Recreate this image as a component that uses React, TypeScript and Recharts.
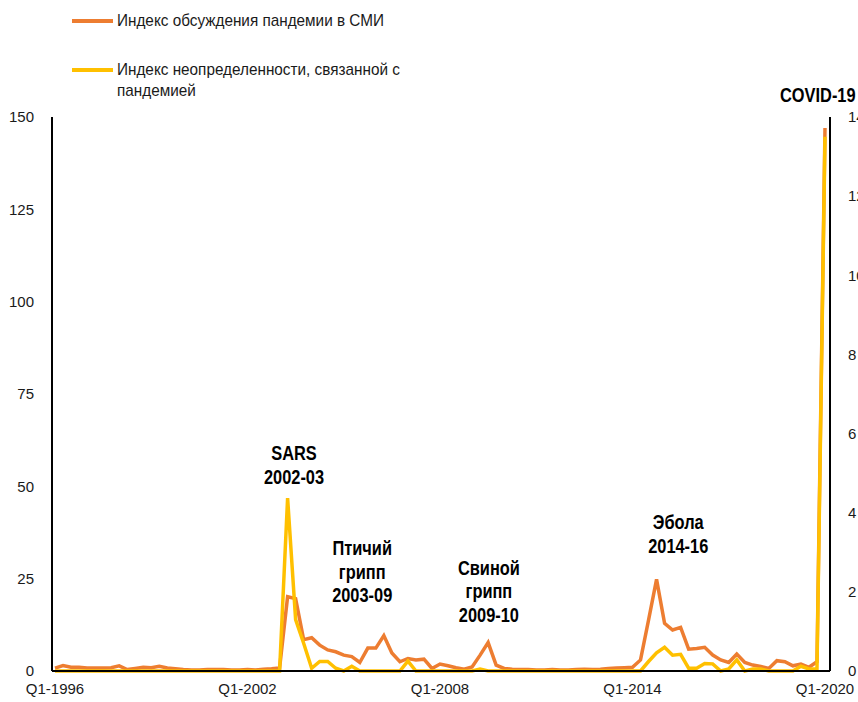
import React from "react";
import { LineChart, Line, XAxis, YAxis, ReferenceDot } from "recharts";

document.body.style.margin = "0";

// quarters Q1-1996 .. Q1-2020
const quarters: string[] = [];
for (let y = 1996; y <= 2020; y++) {
  for (let q = 1; q <= 4; q++) {
    if (y === 2020 && q > 1) break;
    quarters.push(`Q${q}-${y}`);
  }
}

// Индекс обсуждения пандемии в СМИ (левая ось)
const mediaIndex = [
  0.8, 1.5, 1.0, 1.0, 0.8, 0.8, 0.8, 0.9, 1.4, 0.4, 0.7, 1.0, 0.9, 1.3, 0.8, 0.6,
  0.4, 0.3, 0.3, 0.4, 0.4, 0.4, 0.3, 0.3, 0.4, 0.3, 0.5, 0.6, 0.8, 20.1, 19.6, 8.5,
  9.0, 7.0, 5.7, 5.2, 4.3, 3.9, 2.3, 6.2, 6.2, 9.6, 4.9, 2.5, 3.4, 3.0, 3.2, 0.7,
  1.9, 1.4, 0.9, 0.5, 1.1, 4.3, 7.7, 1.6, 0.7, 0.5, 0.4, 0.4, 0.3, 0.3, 0.4, 0.3,
  0.3, 0.4, 0.5, 0.4, 0.5, 0.7, 0.8, 0.9, 1.0, 3.0, 13.8, 24.8, 12.9, 11.1, 11.8, 5.9,
  6.1, 6.4, 4.3, 3.0, 2.3, 4.6, 2.3, 1.6, 1.2, 0.7, 2.8, 2.5, 1.4, 1.9, 1.0, 2.5,
  147,
];

// Индекс неопределенности, связанной с пандемией (правая ось)
const uncertaintyIndex = [
  0, 0, 0, 0, 0, 0, 0, 0, 0, 0, 0, 0, 0, 0, 0, 0,
  0, 0, 0, 0, 0, 0, 0, 0, 0, 0, 0, 0, 0, 4.37, 1.3, 0.7,
  0.07, 0.24, 0.24, 0.07, 0, 0.12, 0, 0, 0, 0, 0, 0, 0.25, 0, 0, 0,
  0, 0, 0, 0, 0, 0.05, 0, 0, 0, 0, 0, 0, 0, 0, 0, 0,
  0, 0, 0, 0, 0, 0, 0, 0, 0, 0, 0.24, 0.46, 0.6, 0.4, 0.42, 0.07,
  0.07, 0.19, 0.18, 0, 0.05, 0.28, 0, 0.05, 0.05, 0, 0, 0, 0, 0.12, 0.05, 0.05,
  13.5,
];

const xTicks = [0, 24, 48, 72, 96];
const leftTicks = [0, 25, 50, 75, 100, 125, 150];
const rightTicks = [0, 2, 4, 6, 8, 10, 12, 14];

const series = [
  { key: "media", name: "Индекс обсуждения пандемии в СМИ", color: "#ED7D31", axis: "left" },
  { key: "uncertainty", name: "Индекс неопределенности, связанной с\nпандемией", color: "#FFC000", axis: "right" },
];

// подписи событий: квартал и уровень (по левой оси) первой строки
const events = [
  { q: 29.8, v: 57.1, lines: ["SARS", "2002-03"] },
  { q: 38.3, v: 31.4, lines: ["Птичий", "грипп", "2003-09"] },
  { q: 54.1, v: 26.0, lines: ["Свиной", "грипп", "2009-10"] },
  { q: 77.7, v: 38.4, lines: ["Эбола", "2014-16"] },
  { q: 95.1, v: 154, lines: ["COVID-19"] },
];

const data = quarters.map((label, i) => ({
  i,
  label,
  media: mediaIndex[i],
  uncertainty: uncertaintyIndex[i],
}));

const tickStyle = { fill: "#1a1a1a", fontSize: 15, fontFamily: "'Liberation Sans', Arial, sans-serif" };

// узкий жирный шрифт как в оригинале — сжимаем по горизонтали
const EventLabel = (lines: string[]) => (props: any) => {
  const { viewBox } = props;
  const cx = viewBox.x + viewBox.width / 2;
  const cy = viewBox.y + viewBox.height / 2;
  return (
    <g transform={`translate(${cx},${cy}) scale(0.82,1)`}>
      <text
        x={0}
        y={0}
        textAnchor="middle"
        fontFamily="'Liberation Sans', Arial, sans-serif"
        fontWeight="bold"
        fontSize={20}
        fill="#000"
      >
        {lines.map((l, k) => (
          <tspan key={k} x={0} dy={k === 0 ? 0 : 23.5}>
            {l}
          </tspan>
        ))}
      </text>
    </g>
  );
};

export default function App() {
  return (
    <div style={{ position: "relative", width: 858, height: 702, overflow: "hidden", background: "#fff" }}>
      {series.map((s, k) => (
        <div
          key={s.key}
          style={{
            position: "absolute",
            left: 72,
            top: k === 0 ? 10 : 59,
            display: "flex",
            alignItems: "flex-start",
            fontFamily: "'Liberation Sans', Arial, sans-serif",
            fontSize: 17,
            lineHeight: "21px",
            color: "#1a1a1a",
            whiteSpace: "pre",
          }}
        >
          <div style={{ width: 41, height: 4, background: s.color, marginTop: 8.5, marginRight: 4 }} />
          <div style={{ transform: "scaleX(0.9)", transformOrigin: "left top" }}>{s.name}</div>
        </div>
      ))}
      <LineChart
        width={858}
        height={702}
        data={data}
        margin={{ top: 117, left: 12, right: 0, bottom: 0 }}
      >
        <XAxis
          dataKey="i"
          type="number"
          domain={[0, 96]}
          ticks={xTicks}
          interval={0}
          tickFormatter={(v: number) => quarters[v]}
          padding={{ left: 3, right: 5 }}
          height={31}
          axisLine={{ stroke: "#000", strokeWidth: 2 }}
          tickLine={false}
          tickMargin={6}
          tick={tickStyle}
        />
        <YAxis
          yAxisId="left"
          domain={[0, 150]}
          ticks={leftTicks}
          interval={0}
          width={40}
          axisLine={{ stroke: "#000", strokeWidth: 2 }}
          tickLine={false}
          tickMargin={12}
          tick={tickStyle}
        />
        <YAxis
          yAxisId="right"
          orientation="right"
          domain={[0, 14]}
          ticks={rightTicks}
          interval={0}
          width={28}
          axisLine={{ stroke: "#000", strokeWidth: 2 }}
          tickLine={false}
          tickMargin={12}
          tick={{ ...tickStyle, textAnchor: "start" }}
        />
        {series.map((s) => (
          <Line
            key={s.key}
            yAxisId={s.axis}
            dataKey={s.key}
            type="linear"
            stroke={s.color}
            strokeWidth={3.5}
            dot={false}
            isAnimationActive={false}
          />
        ))}
        {events.map((e, k) => (
          <ReferenceDot
            key={k}
            yAxisId="left"
            x={e.q}
            y={e.v}
            r={1}
            fill="none"
            stroke="none"
            ifOverflow="visible"
            label={{ content: EventLabel(e.lines) }}
          />
        ))}
      </LineChart>
    </div>
  );
}
